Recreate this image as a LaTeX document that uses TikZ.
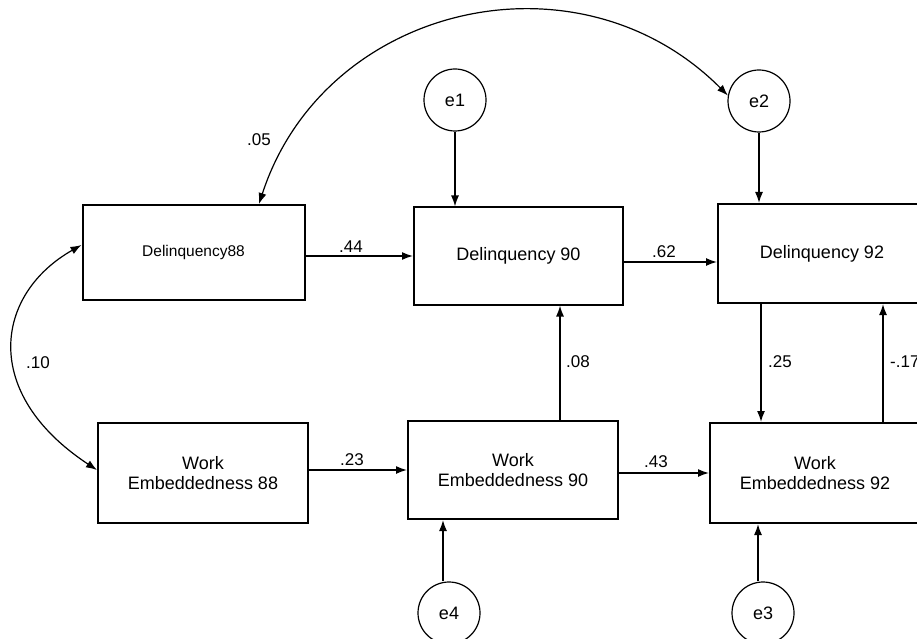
\documentclass[tikz,border=0pt]{standalone}
\usepackage{fontspec}
\setmainfont{Liberation Sans}
\usetikzlibrary{arrows.meta}
\begin{document}
\begin{tikzpicture}[x=1pt,y=1pt,
  box/.style={draw, line width=2pt, inner sep=0pt, align=center, font=\fontsize{18}{19.5}\selectfont},
  err/.style={circle, draw, line width=1.2pt, minimum size=62pt, inner sep=0pt, font=\fontsize{18}{20}\selectfont},
  arr/.style={line width=1.5pt, -{Latex[length=11pt,width=8pt]}},
  dbl/.style={line width=1.2pt, {Latex[length=11pt,width=8pt]}-{Latex[length=11pt,width=8pt]}},
  lbl/.style={font=\fontsize{17}{18}\selectfont, inner sep=0pt}
]
\path[use as bounding box, clip] (0,0) rectangle (917,638);
\fill[white] (0,0) rectangle (917,638);

% boxes
\node[box, minimum width=222pt, minimum height=95pt] (d88) at (193.5,385.5) {\fontsize{15.5}{17}\selectfont Delinquency88};
\node[box, minimum width=209pt, minimum height=97pt] (d90) at (518.5,382) {Delinquency 90};
\node[box, minimum width=208pt, minimum height=99pt] (d92) at (822,384.5) {Delinquency 92};
\node[box, minimum width=210pt, minimum height=100pt] (w88) at (203,165) {Work\\Embeddedness 88};
\node[box, minimum width=210pt, minimum height=98pt] (w90) at (513,168) {Work\\Embeddedness 90};
\node[box, minimum width=210pt, minimum height=100pt] (w92) at (815,165) {Work\\Embeddedness 92};

% error terms
\node[err] (e1) at (455,538) {e1};
\node[err] (e2) at (759,537) {e2};
\node[err] (e4) at (449,25) {e4};
\node[err] (e3) at (763,25) {e3};

% paths
\draw[arr] (e1) -- (e1 |- d90.north);
\draw[arr] (e2) -- (e2 |- d92.north);
\draw[arr] (d90.west -| d88.east) -- (d90.west);
\draw[arr] ([yshift=-6pt]d90.east) -- ([yshift=-6pt]d90.east -| d92.west);
\draw[arr] (w90.west -| w88.east) -- (w90.west);
\draw[arr] (w92.west -| w90.east) -- (w92.west);
\draw[arr] ([xshift=47pt]w90.north) -- ([xshift=47pt]w90.north |- d90.south);
\draw[arr] ([xshift=-61pt]d92.south) -- ([xshift=-61pt]d92.south |- w92.north);
\draw[arr] ([xshift=68pt]w92.north) -- ([xshift=68pt]w92.north |- d92.south);
\draw[arr] ([xshift=-6pt]e4.north) -- ([xshift=-6pt]e4.north |- w90.south);
\draw[arr] ([xshift=-5pt]e3.north) -- ([xshift=-5pt]e3.north |- w92.south);

% covariances
\draw[dbl] ([xshift=65.5pt]d88.north) .. controls (324,634) and (578,693) .. (e2.170);
\draw[dbl] ([yshift=7.5pt]d88.west) .. controls (-5,344) and (-20,245) .. ([yshift=3pt]w88.west);

% labels
\node[lbl] (l05) at (259,498) {.05};
\node[lbl] (l10) at (38,275) {.10};
\node[lbl] (l44) at (351,391) {.44};
\node[lbl] (l62) at (664,386) {.62};
\node[lbl] (l23) at (352,178) {.23};
\node[lbl] (l43) at (656,176) {.43};
\node[lbl] (l08) at (578,276) {.08};
\node[lbl] (l25) at (780,276) {.25};
\node[lbl, anchor=west] (l17) at (890,276) {-.17};
\end{tikzpicture}
\end{document}
